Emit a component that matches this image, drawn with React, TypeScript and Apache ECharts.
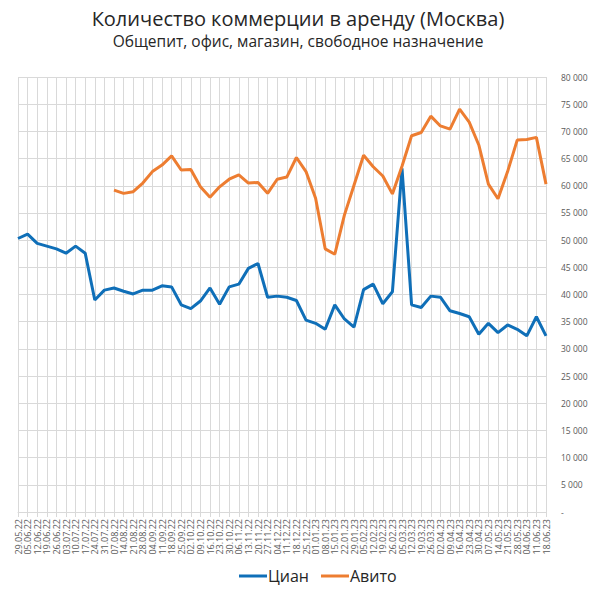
import React, { useEffect, useRef } from "react";
import * as echarts from "echarts";

const dates = [
  "29.05.22", "05.06.22", "12.06.22", "19.06.22", "26.06.22", "03.07.22", "10.07.22", "17.07.22",
  "24.07.22", "31.07.22", "07.08.22", "14.08.22", "21.08.22", "28.08.22", "04.09.22", "11.09.22",
  "18.09.22", "25.09.22", "02.10.22", "09.10.22", "16.10.22", "23.10.22", "30.10.22", "06.11.22",
  "13.11.22", "20.11.22", "27.11.22", "04.12.22", "11.12.22", "18.12.22", "25.12.22", "01.01.23",
  "08.01.23", "15.01.23", "22.01.23", "29.01.23", "05.02.23", "12.02.23", "19.02.23", "26.02.23",
  "05.03.23", "12.03.23", "19.03.23", "26.03.23", "02.04.23", "09.04.23", "16.04.23", "23.04.23",
  "30.04.23", "07.05.23", "14.05.23", "21.05.23", "28.05.23", "04.06.23", "11.06.23", "18.06.23",
];

const cian = [
  50300, 51100, 49400, 48900, 48400, 47600, 48900, 47600,
  39000, 40800, 41200, 40600, 40100, 40800, 40800, 41600,
  41400, 38100, 37400, 38800, 41200, 38200, 41400, 41900,
  44800, 45700, 39500, 39700, 39500, 38900, 35300, 34700,
  33600, 38100, 35500, 34000, 40900, 41900, 38300, 40500,
  63200, 38100, 37600, 39700, 39500, 37000, 36500, 35900,
  32700, 34700, 33000, 34400, 33600, 32400, 35900, 32400,
];

const avito = [
  null, null, null, null, null, null, null, null,
  null, null, 59200, 58600, 58900, 60500, 62600, 63800,
  65500, 62900, 63000, 59800, 57900, 59800, 61200, 62000,
  60500, 60600, 58600, 61200, 61600, 65200, 62600, 57700,
  48400, 47400, 54600, 60100, 65600, 63500, 61800, 58500,
  63600, 69200, 69800, 72800, 71000, 70400, 74100, 71700,
  67500, 60300, 57600, 62600, 68400, 68500, 68900, 60300,
];

const yMin = 0;
const yMax = 80000;
const yStep = 5000;

const fmt = (v: number) =>
  v === 0 ? "-" : String(v).replace(/\B(?=(\d{3})+(?!\d))/g, " ");

export default function App() {
  const ref = useRef<HTMLDivElement>(null);
  useEffect(() => {
    if (!ref.current) return;
    const chart = echarts.init(ref.current, undefined, { renderer: "svg" });
    const font = "'Open Sans', 'Noto Sans', sans-serif";
    chart.setOption({
      animation: false,
      textStyle: { fontFamily: font },
      title: [
        {
          text: "Количество коммерции в аренду (Москва)",
          left: "center",
          top: 8,
          padding: 0,
          textStyle: { fontSize: 20, lineHeight: 20, fontWeight: "normal", color: "#262626", fontFamily: font },
        },
        {
          text: "Общепит, офис, магазин, свободное назначение",
          left: "center",
          top: 33,
          padding: 0,
          textStyle: { fontSize: 15.5, lineHeight: 16, fontWeight: "normal", color: "#262626", fontFamily: font },
        },
      ],
      legend: {
        bottom: 4,
        left: 234,
        itemWidth: 28,
        itemHeight: 3,
        itemGap: 12,
        icon: "rect",
        textStyle: { fontSize: 16, color: "#262626", fontFamily: font, padding: [0, 0, 0, -4] },
        data: ["Циан", "Авито"],
      },
      grid: { left: 18, right: 50, top: 77, bottom: 81 },
      xAxis: {
        type: "category",
        data: dates,
        boundaryGap: false,
        axisLine: { lineStyle: { color: "#d9d9d9" } },
        axisTick: { show: true, interval: 0, length: 5, lineStyle: { color: "#d9d9d9" } },
        axisLabel: { rotate: 90, interval: 0, fontSize: 9, color: "#595959", margin: 7, fontFamily: font },
        splitLine: { show: true, interval: 0, lineStyle: { color: "#d9d9d9", width: 1 } },
      },
      yAxis: {
        type: "value",
        position: "right",
        min: yMin,
        max: yMax,
        interval: yStep,
        axisLine: { show: false },
        axisTick: { show: false },
        axisLabel: { formatter: fmt, fontSize: 8.5, color: "#595959", margin: 15, align: "left", fontFamily: font },
        splitLine: { show: true, lineStyle: { color: "#d9d9d9", width: 1 } },
      },
      series: [
        {
          name: "Циан",
          type: "line",
          data: cian,
          symbol: "none",
          lineStyle: { width: 3, color: "#0F6FB8" },
          itemStyle: { color: "#0F6FB8" },
        },
        {
          name: "Авито",
          type: "line",
          data: avito,
          symbol: "none",
          connectNulls: false,
          lineStyle: { width: 3, color: "#ED7D31" },
          itemStyle: { color: "#ED7D31" },
        },
      ],
    });
    return () => chart.dispose();
  }, []);
  return (
    <div
      ref={ref}
      style={{ position: "absolute", left: 0, top: 0, width: 596, height: 593 }}
    />
  );
}
